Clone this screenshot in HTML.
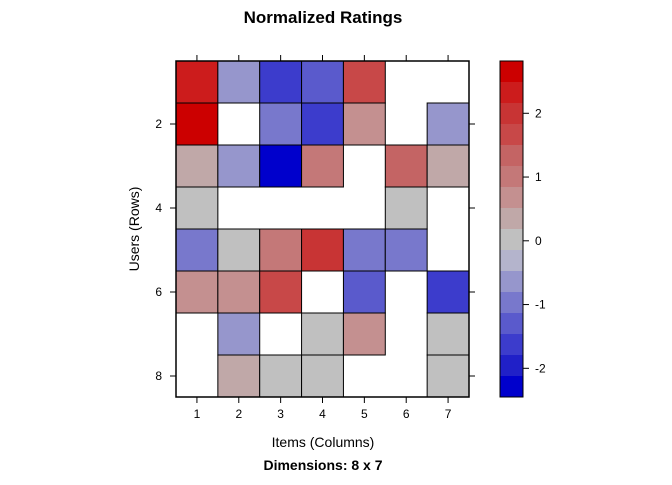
<!DOCTYPE html>
<html><head><meta charset="utf-8"><style>
body{margin:0;background:#fff;font-family:"Liberation Sans",sans-serif}
</style></head><body>
<svg id="c" width="672" height="480" xmlns="http://www.w3.org/2000/svg" font-family="Liberation Sans, sans-serif"></svg>
<script>
const rowsLab=[1,2,3,4,5,6,7,8];
const colsLab=[1,2,3,4,5,6,7];
const row1=[2.3,-0.6,-1.6,-1.3,1.7,null,null];
const row2=[2.7,null,-1.0,-1.6,0.7,null,-0.6];
const row3=[0.35,-0.6,-2.3,1.0,null,1.3,0.35];
const row4=[0,null,null,null,null,0,null];
const row5=[-1.0,0,1.0,2.0,-1.0,-1.0,null];
const row6=[0.7,0.7,1.7,null,-1.3,null,-1.6];
const row7=[null,-0.6,null,0,0.7,null,0];
const row8=[null,0.35,0,0,null,null,0];
const binColors=["#0000cc","#2020c8","#3c3ccc","#5a5acc","#7878cc","#9696cc","#b4b4cc","#c0c0c0","#c0a8a8","#c49090","#c47878","#c46464","#c84848","#c83434","#cc1c1c","#cc0000"];
const cbTicks=[-2,-1,0,1,2];
const vmin=-2.45,vmax=2.82;
const data=[row1,row2,row3,row4,row5,row6,row7,row8];
const svg=document.getElementById('c');const NS="http://www.w3.org/2000/svg";
function mk(t,a,p){const e=document.createElementNS(NS,t);for(const k in a)e.setAttribute(k,a[k]);(p||svg).appendChild(e);return e;}
const L=176,R=469,T=61,B=397;
const cw=(R-L)/colsLab.length,rh=(B-T)/rowsLab.length;
const xs=j=>L+j*cw, ys=i=>T+i*rh;
function col(v){let b=Math.floor((v-vmin)/(vmax-vmin)*binColors.length);b=Math.max(0,Math.min(binColors.length-1,b));return binColors[b];}
mk('rect',{x:L,y:T,width:R-L,height:B-T,fill:'#fff'});
data.forEach((r,i)=>r.forEach((v,j)=>{if(v===null)return;
const e=mk('rect',{x:xs(j),y:ys(i),width:cw,height:rh,fill:col(v),stroke:'#000','stroke-width':1});

}));
mk('rect',{x:L,y:T,width:R-L,height:B-T,fill:'none',stroke:'#000','stroke-width':1.5});
colsLab.forEach((c,j)=>{const x=xs(j)+cw/2;
mk('line',{x1:x,x2:x,y1:T-6,y2:T,stroke:'#000'});mk('line',{x1:x,x2:x,y1:B,y2:B+6,stroke:'#000'});
const t=mk('text',{x:x,y:418,'font-size':12,'text-anchor':'middle'});t.textContent=c;
});
rowsLab.forEach((r,i)=>{if(r%2)return;const y=ys(i)+rh/2;
mk('line',{x1:L-6,x2:L,y1:y,y2:y,stroke:'#000'});mk('line',{x1:R,x2:R+6,y1:y,y2:y,stroke:'#000'});
const t=mk('text',{x:162,y:y+4,'font-size':12,'text-anchor':'end'});t.textContent=r;
});
// colorbar
const cL=500,cR=523;const cy=v=>B-(v-vmin)/(vmax-vmin)*(B-T);
binColors.forEach((c,k)=>{const v0=vmin+k*(vmax-vmin)/binColors.length,v1=vmin+(k+1)*(vmax-vmin)/binColors.length;
const e=mk('rect',{x:cL,y:cy(v1),width:cR-cL,height:cy(v0)-cy(v1),fill:c});
});
mk('rect',{x:cL,y:T,width:cR-cL,height:B-T,fill:'none',stroke:'#000'});
cbTicks.forEach(v=>{const y=cy(v);mk('line',{x1:cR,x2:cR+6,y1:y,y2:y,stroke:'#000'});
const t=mk('text',{x:535,y:y+4,'font-size':12});t.textContent=v;
});
</script>
<svg width="672" height="480" style="position:absolute;left:0;top:0" xmlns="http://www.w3.org/2000/svg" font-family="Liberation Sans, sans-serif">
<text x="323" y="23" font-size="17" font-weight="bold" text-anchor="middle">Normalized Ratings</text>
<text x="323" y="447" font-size="14" text-anchor="middle">Items (Columns)</text>
<text x="323" y="470" font-size="14" font-weight="bold" text-anchor="middle">Dimensions: 8 x 7</text>
<text x="0" y="0" font-size="14" text-anchor="middle" transform="translate(139,229) rotate(-90)">Users (Rows)</text>
</svg>
</body></html>
